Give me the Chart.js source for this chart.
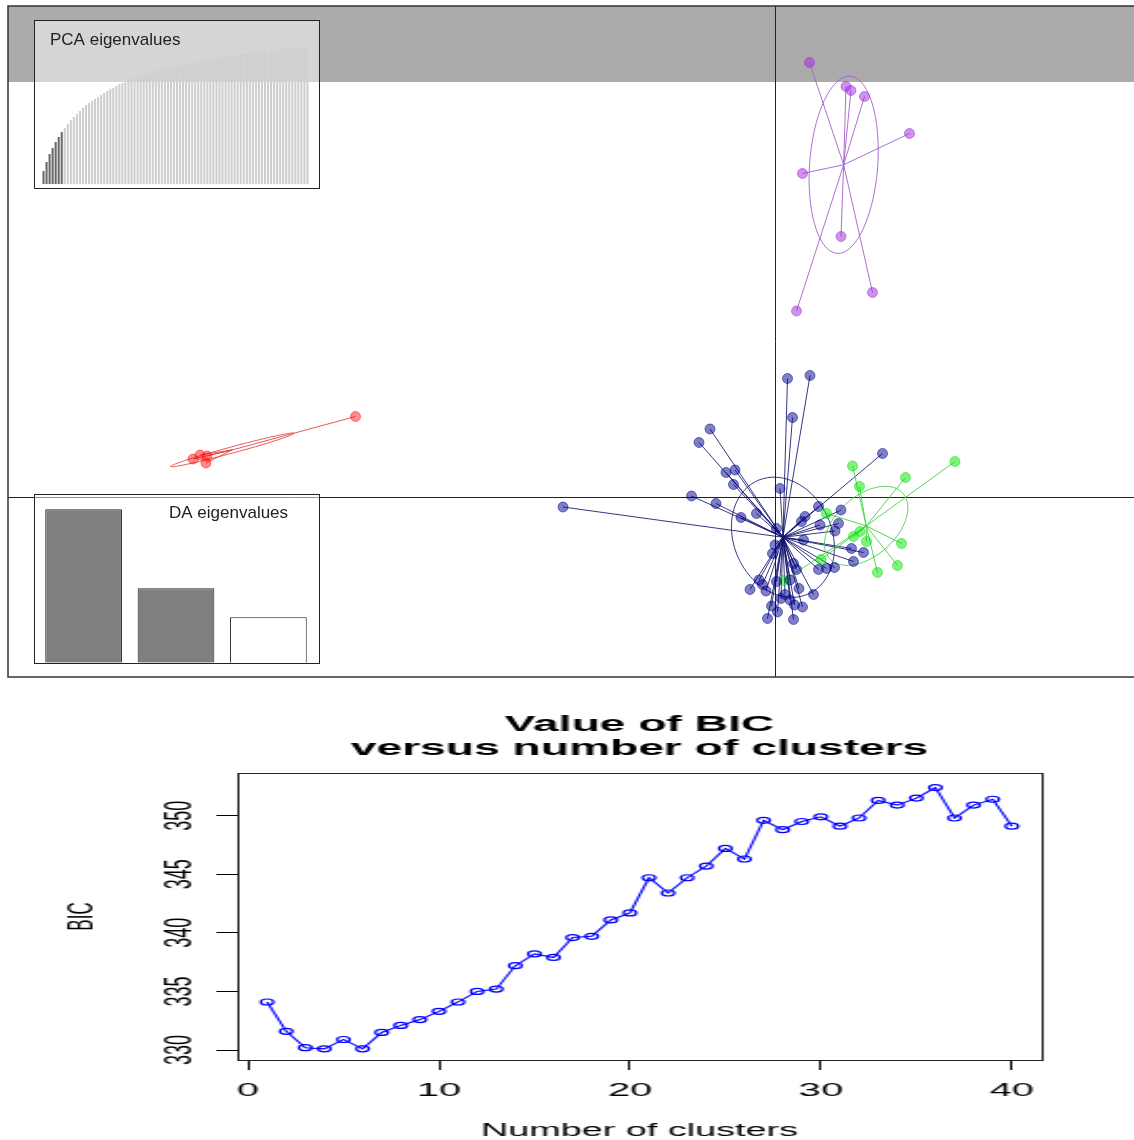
<!DOCTYPE html>
<html>
<head>
<meta charset="utf-8">
<script src="https://cdn.jsdelivr.net/npm/chart.js@4.4.1/dist/chart.umd.min.js"></script>
<style>
  body { margin: 0; background: #fff; }
  #page { position: relative; width: 1134px; height: 1140px; overflow: hidden; }
  .inset { position: absolute; border: 1px solid #222; background: rgba(255,255,255,0.5); }
  .inset canvas { display: block; }
  #bicWrap { position: absolute; left: 0; top: 680px; width: 540px; height: 460px; transform: scaleX(2.1); transform-origin: 0 0; }
</style>
</head>
<body>
<div id="page">
  <canvas id="dapc" width="1134" height="680" style="position:absolute;left:0;top:0"></canvas>
  <div class="inset" style="left:34px;top:20px;width:284px;height:167px"><canvas id="pca" width="284" height="167"></canvas></div>
  <div class="inset" style="left:34px;top:494px;width:284px;height:168px"><canvas id="da" width="284" height="168"></canvas></div>
  <div id="bicWrap"><canvas id="bic" width="540" height="460"></canvas></div>
</div>
<script>
// --- DAPC scatter: discriminant functions 1 and 2 per group ---
const redLD1 = [-8.39, -11.64, -11.50, -11.36, -11.38];
const redLD2 = [1.61, 0.76, 0.84, 0.82, 0.68];

const blueLD1 = [0.25, 0.70, 0.35, -1.30, -1.52, 2.15, -0.80, -0.98, -0.83, 0.10,
  -1.67, -1.18, 0.87, 1.32, -0.37, -0.68, 0.60, 0.53, 0.90, 1.27,
  1.20, 0.03, 0.57, 1.53, 1.77, 0.00, -0.05, 1.57, 0.87, 1.19,
  1.03, 0.37, 0.43, -0.32, -0.50, -0.18, 0.03, 0.30, 0.48, 0.77,
  0.12, 0.30, 0.39, -0.07, -0.15, 0.37, -4.24, -0.25, 0.20, 0.05, 0.55];
const blueLD2 = [2.37, 2.43, 1.59, 1.36, 1.09, 0.87, 0.54, 0.49, 0.25, 0.17,
  0.02, -0.13, -0.19, -0.26, -0.33, -0.41, -0.39, -0.49, -0.56, -0.53,
  -0.68, -0.63, -0.86, -1.03, -1.11, -0.96, -1.13, -1.29, -1.45, -1.41,
  -1.43, -1.33, -1.45, -1.66, -1.85, -1.88, -1.69, -1.66, -1.83, -1.95,
  -2.03, -2.06, -2.16, -2.18, -2.43, -2.45, -0.20, -1.75, -1.95, -2.30, -2.20];

const greenLD1 = [1.55, 3.60, 2.61, 1.69, 1.03, 1.70, 1.57, 1.83, 2.53, 2.45, 2.05, 0.92, 0.18];
const greenLD2 = [0.62, 0.71, 0.39, 0.21, -0.33, -0.69, -0.79, -0.89, -0.93, -1.37, -1.51, -1.25, -1.67];

const purpleLD1 = [0.69, 1.42, 1.52, 1.79, 2.69, 0.55, 1.32, 1.95, 0.43];
const purpleLD2 = [8.69, 8.21, 8.13, 8.01, 7.27, 6.47, 5.21, 4.09, 3.72];

// inset bar heights
const pcaEig = [13,22,30,36,42,47,52,56,60,64, 67,70,73,76,79,81,83,85,87,89,
  91,93,95,96,98,100,101,103,104,105, 106,107,108,109,110,111,112,113,114,115,
  115,116,117,117,118,119,119,120,121,121, 122,122,123,123,124,125,125,126,126,127,
  127,128,128,129,129,130,130,131,131,131, 132,132,133,133,133,134,134,134,135,135,
  135,136,136,136,136,137,137,137];
const pcaRetained = 7;
const daEig = [153.4, 74.4, 45.4];

// --- BIC curve ---
const nClusters = [1,2,3,4,5,6,7,8,9,10,11,12,13,14,15,16,17,18,19,20,
  21,22,23,24,25,26,27,28,29,30,31,32,33,34,35,36,37,38,39,40];
const bicValues = [334.1, 331.6, 330.2, 330.1, 330.9, 330.1, 331.5, 332.1, 332.6, 333.3,
  334.1, 335.0, 335.2, 337.2, 338.2, 337.9, 339.6, 339.7, 341.1, 341.7,
  344.7, 343.4, 344.7, 345.7, 347.2, 346.3, 349.6, 348.8, 349.5, 349.9,
  349.1, 349.8, 351.3, 350.9, 351.5, 352.4, 349.8, 350.9, 351.4, 349.1];
const xTicks = [0, 10, 20, 30, 40];
const yTicks = [330, 335, 340, 345, 350];

const FONT = '"Liberation Sans", Arial, Helvetica, sans-serif';

const groups = [
  { x: redLD1, y: redLD2, pt: 'rgba(255,0,0,0.45)', ln: 'rgba(228,70,70,0.9)' },
  { x: blueLD1, y: blueLD2, pt: 'rgba(0,0,139,0.5)', ln: 'rgba(20,20,110,0.85)' },
  { x: greenLD1, y: greenLD2, pt: 'rgba(0,230,0,0.5)', ln: 'rgba(70,210,70,0.9)' },
  { x: purpleLD1, y: purpleLD2, pt: 'rgba(160,40,220,0.5)', ln: 'rgba(165,95,205,0.9)' }
];

function ellipseOf(xs, ys) {
  const n = xs.length;
  const mx = xs.reduce((a, b) => a + b, 0) / n;
  const my = ys.reduce((a, b) => a + b, 0) / n;
  let sxx = 0, syy = 0, sxy = 0;
  for (let i = 0; i < n; i++) {
    const dx = xs[i] - mx, dy = ys[i] - my;
    sxx += dx * dx; syy += dy * dy; sxy += dx * dy;
  }
  sxx /= n; syy /= n; sxy /= n;
  const t = (sxx + syy) / 2, d = Math.sqrt(((sxx - syy) / 2) ** 2 + sxy * sxy);
  return {
    mx, my,
    a: Math.sqrt(t + d), b: Math.sqrt(Math.max(t - d, 0)),
    th: 0.5 * Math.atan2(2 * sxy, sxx - syy)
  };
}

const dapcDecor = {
  id: 'dapcDecor',
  beforeDatasetsDraw(chart) {
    const { ctx, chartArea: ca } = chart;
    const sx = chart.scales.x, sy = chart.scales.y;
    ctx.save();
    // grey strip along the top
    ctx.fillStyle = '#ababab';
    ctx.fillRect(ca.left, ca.top, ca.right - ca.left, 76);
    // axes through the origin
    ctx.strokeStyle = '#222';
    ctx.lineWidth = 1;
    const x0 = Math.round(sx.getPixelForValue(0)) + 0.5;
    const y0 = Math.round(sy.getPixelForValue(0)) + 0.5;
    ctx.beginPath();
    ctx.moveTo(x0, ca.top); ctx.lineTo(x0, ca.bottom);
    ctx.moveTo(ca.left, y0); ctx.lineTo(ca.right, y0);
    ctx.stroke();
    // frame (right side runs off the canvas)
    ctx.strokeStyle = '#333';
    ctx.lineWidth = 1.5;
    ctx.strokeRect(ca.left, ca.top, ca.right - ca.left + 4, ca.bottom - ca.top);
    // ellipses and stars
    groups.forEach(g => {
      const e = ellipseOf(g.x, g.y);
      ctx.strokeStyle = g.ln;
      ctx.lineWidth = 1;
      ctx.beginPath();
      for (let k = 0; k <= 120; k++) {
        const t = 2 * Math.PI * k / 120;
        const ex = e.mx + e.a * Math.cos(t) * Math.cos(e.th) - e.b * Math.sin(t) * Math.sin(e.th);
        const ey = e.my + e.a * Math.cos(t) * Math.sin(e.th) + e.b * Math.sin(t) * Math.cos(e.th);
        const px = sx.getPixelForValue(ex), py = sy.getPixelForValue(ey);
        if (k === 0) ctx.moveTo(px, py); else ctx.lineTo(px, py);
      }
      ctx.stroke();
      const cx = sx.getPixelForValue(e.mx), cy = sy.getPixelForValue(e.my);
      ctx.beginPath();
      g.x.forEach((v, i) => {
        ctx.moveTo(cx, cy);
        ctx.lineTo(sx.getPixelForValue(v), sy.getPixelForValue(g.y[i]));
      });
      ctx.stroke();
    });
    ctx.restore();
  }
};

new Chart(document.getElementById('dapc'), {
  type: 'scatter',
  data: {
    datasets: groups.map(g => ({
      data: g.x.map((v, i) => ({ x: v, y: g.y[i] })),
      backgroundColor: g.pt,
      borderColor: g.pt,
      borderWidth: 1,
      pointRadius: 5,
      pointHoverRadius: 5
    }))
  },
  options: {
    responsive: false,
    animation: false,
    devicePixelRatio: 1,
    events: [],
    layout: { autoPadding: false, padding: { left: 8, top: 6, right: 0, bottom: 3 } },
    plugins: { legend: { display: false }, tooltip: { enabled: false } },
    scales: {
      x: { type: 'linear', display: false, min: -15.34, max: 7.18 },
      y: { type: 'linear', display: false, min: -3.6, max: 9.82 }
    }
  },
  plugins: [dapcDecor]
});

function insetLabel(text, x, y) {
  return {
    id: 'insetLabel',
    afterDraw(chart) {
      const ctx = chart.ctx;
      ctx.save();
      ctx.font = '17px ' + FONT;
      ctx.fillStyle = '#222';
      ctx.textAlign = 'left';
      ctx.textBaseline = 'middle';
      ctx.fillText(text, x, y);
      ctx.restore();
    }
  };
}

new Chart(document.getElementById('pca'), {
  type: 'bar',
  data: {
    labels: pcaEig.map((v, i) => i + 1),
    datasets: [{
      data: pcaEig,
      backgroundColor: pcaEig.map((v, i) => i < pcaRetained ? '#6b6b6b' : '#cfcfcf'),
      borderWidth: 0,
      barPercentage: 0.7,
      categoryPercentage: 1
    }]
  },
  options: {
    responsive: false, animation: false, devicePixelRatio: 1, events: [],
    layout: { autoPadding: false, padding: { left: 7, right: 10, top: 4, bottom: 4 } },
    plugins: { legend: { display: false }, tooltip: { enabled: false } },
    scales: {
      x: { display: false },
      y: { display: false, min: 0, max: 159 }
    }
  },
  plugins: [insetLabel('PCA eigenvalues', 15, 19)]
});

new Chart(document.getElementById('da'), {
  type: 'bar',
  data: {
    labels: daEig.map((v, i) => i + 1),
    datasets: [{
      data: daEig,
      backgroundColor: ['#7f7f7f', '#7f7f7f', '#ffffff'],
      borderColor: '#222',
      borderWidth: 1,
      barPercentage: 0.83,
      categoryPercentage: 1
    }]
  },
  options: {
    responsive: false, animation: false, devicePixelRatio: 1, events: [],
    layout: { autoPadding: false, padding: { left: 2.4, right: 4.4, top: 1.7, bottom: 0.3 } },
    plugins: { legend: { display: false }, tooltip: { enabled: false } },
    scales: {
      x: { display: false },
      y: { display: false, min: 0, max: 166 }
    }
  },
  plugins: [insetLabel('DA eigenvalues', 134, 18)]
});

const bicDecor = {
  id: 'bicDecor',
  afterDraw(chart) {
    const { ctx, chartArea: ca } = chart;
    const sy = chart.scales.y;
    ctx.save();
    ctx.strokeStyle = '#222';
    ctx.lineWidth = 1;
    ctx.strokeRect(Math.round(ca.left) + 0.5, Math.round(ca.top) + 0.5,
      Math.round(ca.right - ca.left), Math.round(ca.bottom - ca.top));
    ctx.fillStyle = '#000';
    ctx.textAlign = 'center';
    ctx.textBaseline = 'middle';
    ctx.font = '18px ' + FONT;
    yTicks.forEach(v => {
      ctx.save();
      ctx.translate(ca.left - 27, sy.getPixelForValue(v));
      ctx.rotate(-Math.PI / 2);
      ctx.fillText(String(v), 0, 0);
      ctx.restore();
    });
    ctx.font = 'bold 22px ' + FONT;
    const cx = (ca.left + ca.right) / 2;
    ctx.fillText('Value of BIC', cx, 45);
    ctx.fillText('versus number of clusters', cx, 69);
    ctx.restore();
  }
};

new Chart(document.getElementById('bic'), {
  type: 'line',
  data: {
    datasets: [{
      data: nClusters.map((k, i) => ({ x: k, y: bicValues[i] })),
      borderColor: '#0000ff',
      borderWidth: 1.1,
      pointStyle: 'circle',
      pointRadius: 3,
      pointBorderWidth: 1.2,
      pointBorderColor: '#0000ff',
      pointBackgroundColor: 'rgba(0,0,0,0)',
      fill: false,
      tension: 0
    }]
  },
  options: {
    responsive: false, animation: false, devicePixelRatio: 1, events: [],
    layout: { autoPadding: false, padding: { left: 0, right: 44, top: 93, bottom: 0 } },
    plugins: { legend: { display: false }, tooltip: { enabled: false } },
    scales: {
      x: {
        type: 'linear', min: -0.56, max: 41.56,
        afterBuildTicks: s => { s.ticks = xTicks.map(v => ({ value: v })); },
        afterFit: s => { s.height = 80; },
        grid: { drawOnChartArea: false, drawTicks: true, tickLength: 10, tickColor: '#000', tickWidth: 1 },
        border: { display: false },
        ticks: { color: '#000', padding: 9, font: { family: FONT, size: 19 }, maxRotation: 0 },
        title: { display: true, text: 'Number of clusters', color: '#000', padding: { top: 0, bottom: 0 }, font: { family: FONT, size: 18, lineHeight: 1 } }
      },
      y: {
        type: 'linear', min: 329.15, max: 353.64,
        afterBuildTicks: s => { s.ticks = yTicks.map(v => ({ value: v })); },
        afterFit: s => { s.width = 113; },
        grid: { drawOnChartArea: false, drawTicks: true, tickLength: 10, tickColor: '#000', tickWidth: 1 },
        border: { display: false },
        ticks: { display: false },
        title: { display: true, text: 'BIC', color: '#000', padding: { top: 29, bottom: 0 }, font: { family: FONT, size: 17 } }
      }
    }
  },
  plugins: [bicDecor]
});
</script>
</body>
</html>
